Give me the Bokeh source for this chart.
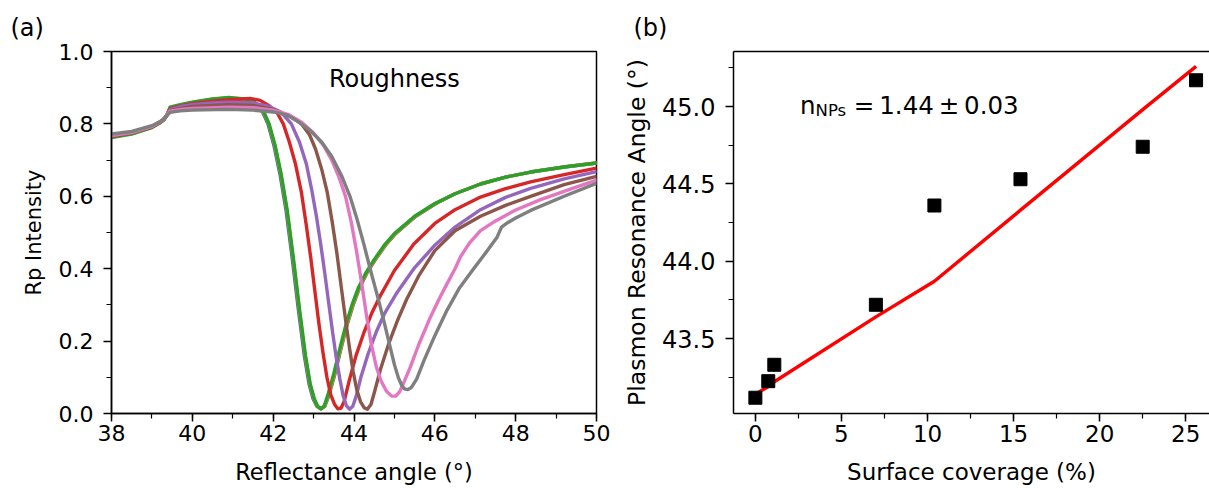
from bokeh.plotting import figure
from bokeh.layouts import row
from bokeh.models import (Range1d, SingleIntervalTicker, PrintfTickFormatter, Label,
                          Title, LinearAxis, FixedTicker)
from bokeh.embed import file_html
from bokeh.resources import INLINE

# ---------------- data: panel (a) reflectance curves ----------------
angle_c2 = [38.0, 38.5, 39.0, 39.2, 39.3, 39.38, 39.45, 39.7, 40.0, 40.5, 40.9, 41.3, 41.5, 41.65, 41.78,
            41.9, 42.05, 42.2, 42.35, 42.5, 42.65, 42.8, 42.92, 43.02, 43.1, 43.18, 43.26, 43.35, 43.5,
            43.65, 43.8, 43.95, 44.1, 44.3, 44.5, 44.75, 45.0, 45.5, 46.0, 46.5, 47.13, 47.75, 48.37,
            49.2, 50.0]
rp_c2 = [0.762, 0.772, 0.79, 0.803, 0.812, 0.826, 0.846, 0.853, 0.860, 0.869, 0.873, 0.869, 0.862, 0.85, 0.83,
         0.80, 0.74, 0.66, 0.56, 0.43, 0.29, 0.16, 0.08, 0.04, 0.02, 0.013, 0.02, 0.05, 0.11,
         0.18, 0.245, 0.30, 0.345, 0.39, 0.425, 0.465, 0.497, 0.545, 0.58, 0.607, 0.634, 0.653, 0.667,
         0.681, 0.692]
angle_c0 = [38.0, 38.5, 39.0, 39.2, 39.3, 39.38, 39.45, 39.7, 40.0, 40.5, 40.9, 41.3, 41.47, 41.62, 41.75,
            41.87, 42.02, 42.17, 42.32, 42.47, 42.62, 42.77, 42.89, 42.99, 43.08, 43.18, 43.28, 43.38, 43.53,
            43.68, 43.83, 43.98, 44.13, 44.33, 44.53, 44.78, 45.03, 45.53, 46.03, 46.5, 47.13, 47.75, 48.37,
            49.2, 50.0]
rp_c0 = [0.766, 0.774, 0.792, 0.804, 0.812, 0.826, 0.844, 0.851, 0.858, 0.867, 0.871, 0.867, 0.862, 0.85, 0.83,
         0.80, 0.74, 0.66, 0.56, 0.43, 0.29, 0.16, 0.08, 0.04, 0.02, 0.013, 0.02, 0.05, 0.11,
         0.18, 0.245, 0.30, 0.345, 0.39, 0.425, 0.465, 0.497, 0.545, 0.58, 0.607, 0.634, 0.653, 0.667,
         0.681, 0.692]
angle_c1 = [38.0, 38.5, 39.0, 39.2, 39.3, 39.38, 39.45, 39.7, 40.0, 40.5, 40.9, 41.3, 41.49, 41.64, 41.77,
            41.89, 42.04, 42.19, 42.34, 42.49, 42.64, 42.79, 42.91, 43.01, 43.09, 43.18, 43.27, 43.37, 43.52,
            43.67, 43.82, 43.97, 44.12, 44.32, 44.52, 44.77, 45.02, 45.52, 46.02, 46.5, 47.13, 47.75, 48.37,
            49.2, 50.0]
rp_c1 = [0.764, 0.773, 0.791, 0.803, 0.812, 0.826, 0.845, 0.852, 0.859, 0.868, 0.872, 0.868, 0.862, 0.85, 0.83,
         0.80, 0.74, 0.66, 0.56, 0.43, 0.29, 0.16, 0.08, 0.04, 0.02, 0.013, 0.02, 0.05, 0.11,
         0.18, 0.245, 0.30, 0.345, 0.39, 0.425, 0.465, 0.497, 0.545, 0.58, 0.607, 0.634, 0.653, 0.667,
         0.681, 0.692]
angle_c3 = [38.0, 38.5, 39.0, 39.2, 39.3, 39.38, 39.45, 39.7, 40.0, 40.5, 40.9, 41.45, 41.68, 41.9, 42.1,
            42.25, 42.4, 42.55, 42.7, 42.82, 42.93, 43.03, 43.13, 43.23, 43.33, 43.43, 43.52, 43.6, 43.68,
            43.76, 43.88, 44.05, 44.25, 44.45, 44.65, 45.0, 45.48, 46.0, 46.5, 47.13, 47.75, 48.37, 49.2,
            50.0]
rp_c3 = [0.766, 0.775, 0.792, 0.804, 0.813, 0.826, 0.842, 0.850, 0.856, 0.863, 0.867, 0.870, 0.865, 0.85, 0.83,
         0.80, 0.75, 0.69, 0.61, 0.52, 0.43, 0.34, 0.25, 0.17, 0.10, 0.05, 0.025, 0.013, 0.015,
         0.035, 0.09, 0.16, 0.225, 0.28, 0.325, 0.395, 0.468, 0.525, 0.563, 0.598, 0.621, 0.640, 0.660,
         0.678]
angle_c4 = [38.0, 38.5, 39.0, 39.2, 39.3, 39.38, 39.45, 39.7, 40.0, 40.5, 40.9, 41.5, 41.9, 42.2, 42.45,
            42.65, 42.82, 42.95, 43.07, 43.18, 43.28, 43.38, 43.47, 43.56, 43.65, 43.73, 43.81, 43.89, 43.97,
            44.06, 44.17, 44.35, 44.55, 44.75, 45.07, 45.48, 46.0, 46.5, 47.13, 47.75, 48.37, 49.2, 50.0]
rp_c4 = [0.768, 0.776, 0.793, 0.805, 0.814, 0.826, 0.840, 0.848, 0.853, 0.858, 0.860, 0.858, 0.848, 0.832, 0.80,
         0.75, 0.69, 0.62, 0.545, 0.465, 0.385, 0.30, 0.225, 0.155, 0.095, 0.05, 0.022, 0.012, 0.02,
         0.05, 0.10, 0.165, 0.225, 0.275, 0.335, 0.40, 0.465, 0.515, 0.563, 0.597, 0.622, 0.648, 0.668]
angle_c5 = [38.0, 38.5, 39.0, 39.2, 39.3, 39.38, 39.45, 39.7, 40.0, 40.9, 41.5, 42.0, 42.4, 42.7, 42.9,
            43.05, 43.2, 43.34, 43.46, 43.58, 43.69, 43.79, 43.89, 43.98, 44.07, 44.16, 44.25, 44.33, 44.42,
            44.52, 44.65, 44.85, 45.07, 45.3, 45.6, 46.0, 46.5, 47.13, 47.75, 48.37, 49.2, 50.0]
rp_c5 = [0.768, 0.776, 0.793, 0.805, 0.814, 0.826, 0.837, 0.843, 0.848, 0.853, 0.851, 0.840, 0.822, 0.80, 0.77,
         0.73, 0.675, 0.61, 0.53, 0.44, 0.345, 0.26, 0.18, 0.115, 0.065, 0.033, 0.016, 0.012, 0.025,
         0.065, 0.12, 0.19, 0.255, 0.315, 0.38, 0.45, 0.505, 0.545, 0.575, 0.60, 0.632, 0.655]
angle_c6 = [38.0, 38.5, 39.0, 39.2, 39.3, 39.38, 39.45, 39.7, 40.0, 40.9, 41.5, 42.0, 42.4, 42.7, 43.0,
            43.25, 43.45, 43.62, 43.79, 43.93, 44.06, 44.19, 44.31, 44.43, 44.55, 44.67, 44.8, 44.93, 45.03,
            45.13, 45.25, 45.4, 45.6, 45.89, 46.1, 46.3, 46.5, 46.63, 46.85, 47.13, 47.5, 48.0, 48.6,
            49.3, 50.0]
rp_c6 = [0.768, 0.776, 0.793, 0.805, 0.814, 0.826, 0.835, 0.840, 0.843, 0.846, 0.845, 0.838, 0.825, 0.805, 0.775,
         0.74, 0.70, 0.655, 0.60, 0.53, 0.45, 0.36, 0.27, 0.19, 0.13, 0.09, 0.062, 0.048, 0.048,
         0.06, 0.09, 0.13, 0.19, 0.266, 0.315, 0.358, 0.40, 0.432, 0.47, 0.505, 0.532, 0.562, 0.59,
         0.618, 0.645]
angle_c7 = [38.0, 38.5, 39.0, 39.2, 39.3, 39.38, 39.45, 39.7, 40.0, 40.9, 41.5, 42.0, 42.33, 42.6, 42.9,
            43.2, 43.45, 43.7, 43.9, 44.08, 44.25, 44.41, 44.58, 44.74, 44.88, 45.0, 45.1, 45.18, 45.25,
            45.33, 45.42, 45.55, 45.73, 46.0, 46.3, 46.6, 46.96, 47.3, 47.54, 47.65, 47.8, 48.0, 48.37,
            49.2, 50.0]
rp_c7 = [0.772, 0.779, 0.795, 0.806, 0.814, 0.824, 0.832, 0.836, 0.838, 0.840, 0.838, 0.833, 0.825, 0.808, 0.783,
         0.75, 0.71, 0.655, 0.60, 0.535, 0.465, 0.395, 0.325, 0.255, 0.19, 0.135, 0.098, 0.078, 0.068,
         0.066, 0.072, 0.095, 0.146, 0.215, 0.285, 0.345, 0.40, 0.45, 0.487, 0.515, 0.527, 0.54, 0.561,
         0.60, 0.636]

curve_angles = [angle_c0, angle_c1, angle_c2, angle_c3, angle_c4, angle_c5, angle_c6, angle_c7]
curve_rps = [rp_c0, rp_c1, rp_c2, rp_c3, rp_c4, rp_c5, rp_c6, rp_c7]
curve_colors = ["#1f77b4", "#ff7f0e", "#2ca02c", "#d62728", "#9467bd", "#8c564b", "#e377c2", "#7f7f7f"]

# ---------------- data: panel (b) ----------------
coverage = [0.0, 0.75, 1.1, 7.0, 10.4, 15.4, 22.5, 25.6]
resonance_measured = [43.117, 43.224, 43.33, 43.718, 44.36, 44.53, 44.74, 45.17]
resonance_fit = [43.14, 43.19, 43.22, 43.64, 43.87, 44.33, 44.98, 45.26]

FONT = "DejaVu Sans"


def style_axis(ax, interval, fmt, tick_px, label_px):
    ax.ticker = SingleIntervalTicker(interval=interval, num_minor_ticks=2)
    ax.formatter = PrintfTickFormatter(format=fmt)
    ax.major_tick_out = 8
    ax.major_tick_in = 0
    ax.minor_tick_out = 5
    ax.minor_tick_in = 0
    ax.major_tick_line_width = 1.5
    ax.minor_tick_line_width = 1.2
    ax.axis_line_width = 1.5
    ax.major_tick_line_color = "black"
    ax.minor_tick_line_color = "black"
    ax.axis_line_color = "black"
    ax.major_label_text_font = FONT
    ax.major_label_text_font_size = tick_px
    ax.major_label_text_color = "black"
    ax.axis_label_text_font = FONT
    ax.axis_label_text_font_size = label_px
    ax.axis_label_text_font_style = "normal"
    ax.axis_label_text_color = "black"


H = 488

# ---------------- panel (a) ----------------
p1 = figure(width=620, height=H, output_backend="svg", toolbar_location=None,
            x_range=Range1d(38, 50), y_range=Range1d(0, 1.0),
            min_border_left=111, min_border_right=24, min_border_top=51, min_border_bottom=75)
p1.xgrid.visible = False
p1.ygrid.visible = False
p1.outline_line_color = "black"
p1.outline_line_width = 1.5
p1.outline_line_alpha = 1.0
style_axis(p1.xaxis[0], 2, "%d", "22px", "22.5px")
style_axis(p1.yaxis[0], 0.2, "%.1f", "22px", "21px")
p1.xaxis[0].axis_label = "Reflectance angle (°)"
p1.yaxis[0].axis_label = "Rp Intensity"
p1.xaxis[0].major_label_standoff = 3
p1.xaxis[0].axis_label_standoff = 15
p1.yaxis[0].major_label_standoff = 10
p1.yaxis[0].axis_label_standoff = 10

for xs, ys, c in zip(curve_angles, curve_rps, curve_colors):
    p1.line(xs, ys, line_color=c, line_width=3.4, line_join="round", line_cap="round")

p1.add_layout(Label(x=45.0, y=0.923, text="Roughness", text_font=FONT, text_font_size="24px",
                    text_align="center", text_baseline="middle", text_color="black"))
p1.add_layout(Title(text="(a)", align="left", offset=-101, text_font=FONT, text_font_size="24px",
                    text_font_style="normal", text_color="black", standoff=19), "above")

# ---------------- panel (b) ----------------
p2 = figure(width=589, height=H, output_backend="svg", toolbar_location=None,
            x_range=Range1d(-1.27, 26.38), y_range=Range1d(43.015, 45.356),
            min_border_left=112, min_border_right=0, min_border_top=51, min_border_bottom=75)
p2.xgrid.visible = False
p2.ygrid.visible = False
p2.outline_line_color = None
style_axis(p2.xaxis[0], 5, "%d", "23px", "23px")
style_axis(p2.yaxis[0], 0.5, "%.1f", "24px", "23.5px")
p2.xaxis[0].axis_label = "Surface coverage (%)"
p2.yaxis[0].axis_label = "Plasmon Resonance Angle (°)"
p2.xaxis[0].major_label_standoff = 3
p2.xaxis[0].axis_label_standoff = 14
p2.yaxis[0].major_label_standoff = 10
p2.yaxis[0].axis_label_standoff = 8

top_axis = LinearAxis(ticker=FixedTicker(ticks=[]), major_label_text_font_size="0px",
                      major_tick_line_color=None, minor_tick_line_color=None,
                      axis_line_width=1.5, axis_line_color="black", major_label_standoff=0)
p2.add_layout(top_axis, "above")

p2.line(coverage, resonance_fit, line_color="#ff0000", line_width=3.4)
p2.scatter(coverage, resonance_measured, marker="square", size=13, fill_color="black", line_color="black")

p2.add_layout(Label(x=2.6, y=45.006, text="n", text_font=FONT, text_font_size="24.5px",
                    text_align="left", text_baseline="alphabetic", text_color="black"))
p2.add_layout(Label(x=3.5, y=44.973, text="NPs", text_font=FONT, text_font_size="16.5px",
                    text_align="left", text_baseline="alphabetic", text_color="black"))
p2.add_layout(Label(x=5.72, y=45.006, text="=\u20091.44\u2009±\u20090.03", text_font=FONT,
                    text_font_size="24.5px", text_align="left", text_baseline="alphabetic",
                    text_color="black"))
p2.add_layout(Title(text="(b)", align="left", offset=-100, text_font=FONT, text_font_size="24px",
                    text_font_style="normal", text_color="black", standoff=19), "above")

layout = row(p1, p2)
open("out.html", "w").write(file_html(layout, INLINE))
